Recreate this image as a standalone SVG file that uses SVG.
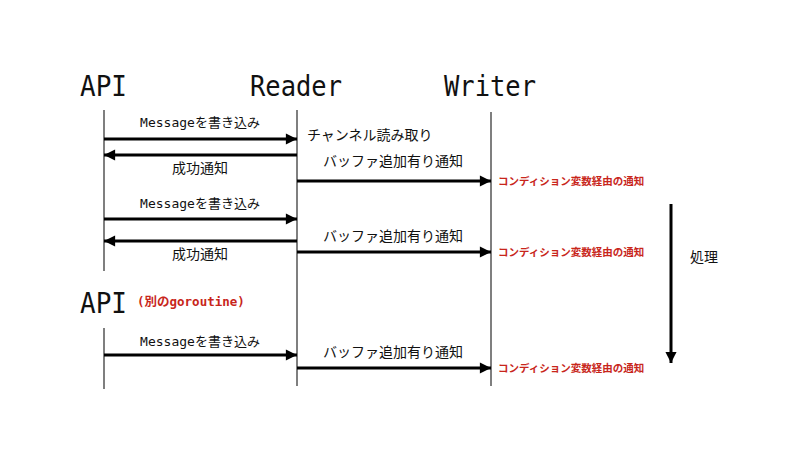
<svg xmlns="http://www.w3.org/2000/svg" width="800" height="450" viewBox="0 0 800 450">
<style>
.title{font-family:"DejaVu Sans Mono","Liberation Mono",monospace;font-size:29px;fill:#111}
.lbl{font-family:"Noto Sans CJK JP",sans-serif;font-size:14px;fill:#111}
.msg{font-family:"DejaVu Sans Mono","Noto Sans CJK JP",monospace;font-size:13px;fill:#111}
.red{font-family:"Noto Sans CJK JP",sans-serif;font-size:10.5px;font-weight:bold;fill:#c8261b}
.redm{font-family:"DejaVu Sans Mono","Noto Sans CJK JP",monospace;font-size:12.5px;font-weight:bold;fill:#c8261b}
.life{stroke:#555;stroke-width:1.5;fill:none}
.arr{stroke:#000;stroke-width:3;fill:none;marker-end:url(#ah)}
</style>
<defs>
<marker id="ah" viewBox="0 0 10 10" refX="10" refY="5" markerWidth="4.3" markerHeight="3.7" markerUnits="strokeWidth" orient="auto">
<path d="M0,0 L10,5 L0,10 Z" fill="#000"/>
</marker>
</defs>
<rect width="800" height="450" fill="#fff"/>
<g id="api">
<text class="title" x="80" y="96" textLength="47" lengthAdjust="spacingAndGlyphs">API</text>
<line class="life" x1="104" y1="110" x2="104" y2="271"/>
</g>
<g id="reader">
<text class="title" x="250" y="96" textLength="92" lengthAdjust="spacingAndGlyphs">Reader</text>
<line class="life" x1="297" y1="110" x2="297" y2="386"/>
</g>
<g id="writer">
<text class="title" x="444" y="96" textLength="92" lengthAdjust="spacingAndGlyphs">Writer</text>
<line class="life" x1="491" y1="112" x2="491" y2="386"/>
</g>
<g id="api2">
<text class="title" x="80" y="313" textLength="47" lengthAdjust="spacingAndGlyphs">API</text>
<text class="redm" x="137" y="306">(別のgoroutine)</text>
<line class="life" x1="104" y1="328" x2="104" y2="389"/>
</g>
<g id="connectors">
<line class="arr" x1="104" y1="139" x2="297" y2="139"/>
<line class="arr" x1="297" y1="155" x2="104" y2="155"/>
<line class="arr" x1="297" y1="181" x2="491" y2="181"/>
<line class="arr" x1="104" y1="219" x2="297" y2="219"/>
<line class="arr" x1="297" y1="241" x2="104" y2="241"/>
<line class="arr" x1="297" y1="252" x2="491" y2="252"/>
<line class="arr" x1="104" y1="355" x2="297" y2="355"/>
<line class="arr" x1="297" y1="368" x2="491" y2="368"/>
<line class="arr" x1="671" y1="204" x2="671" y2="363"/>
</g>
<g id="labels">
<text class="msg" x="200" y="127" text-anchor="middle">Messageを書き込み</text>
<text class="lbl" x="200" y="173" text-anchor="middle">成功通知</text>
<text class="lbl" x="307" y="140">チャンネル読み取り</text>
<text class="lbl" x="393" y="166" text-anchor="middle">バッファ追加有り通知</text>
<text class="red" x="498" y="185">コンディション変数経由の通知</text>
<text class="msg" x="200" y="208" text-anchor="middle">Messageを書き込み</text>
<text class="lbl" x="200" y="259" text-anchor="middle">成功通知</text>
<text class="lbl" x="393" y="241" text-anchor="middle">バッファ追加有り通知</text>
<text class="red" x="498" y="256">コンディション変数経由の通知</text>
<text class="msg" x="200" y="346" text-anchor="middle">Messageを書き込み</text>
<text class="lbl" x="393" y="357" text-anchor="middle">バッファ追加有り通知</text>
<text class="red" x="498" y="372">コンディション変数経由の通知</text>
<text class="lbl" x="690" y="262">処理</text>
</g>
</svg>
